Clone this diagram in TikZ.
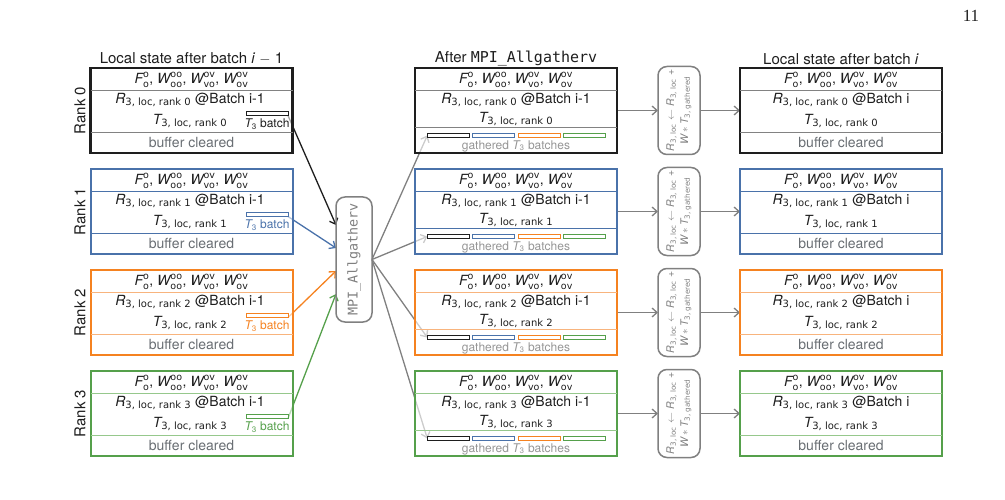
\documentclass[tikz,border=0pt]{standalone}
\usepackage{amsmath}
\usepackage{fontspec}
\setmainfont{TeX Gyre Heros}
\setmonofont{DejaVu Sans Mono}
\newfontfamily\serifpg{Liberation Serif}
\newfontfamily\subf{DejaVu Sans}
\usetikzlibrary{arrows.meta}
\pgfdeclarelayer{bg}
\pgfsetlayers{bg,main}
\definecolor{rkA}{RGB}{30,30,30}
\definecolor{rkB}{RGB}{74,114,170}
\definecolor{rkC}{RGB}{245,130,32}
\definecolor{rkD}{RGB}{85,160,75}
\definecolor{sepA}{RGB}{130,130,130}
\definecolor{sepB}{RGB}{74,114,170}
\definecolor{sepC}{RGB}{248,180,125}
\definecolor{sepD}{RGB}{150,200,140}
\definecolor{txtmain}{RGB}{30,30,30}
\definecolor{txtgray}{RGB}{105,110,115}
\definecolor{lgray}{RGB}{150,150,150}
\definecolor{agray}{RGB}{128,128,128}
\newcommand{\mi}[1]{\text{\itshape #1}}
\newcommand{\sbs}[1]{\text{\subf\fontsize{10}{10}\selectfont #1}}
\newcommand{\sps}[1]{\text{\subf\fontsize{9.5}{9.5}\selectfont #1}}
\newcommand{\sbr}[1]{\text{\subf\fontsize{7.2}{7.2}\selectfont #1}}
\newcommand{\Frow}{$\mi{F}^{\sps{o}}_{\sps{o}}$, $\mi{W}^{\sps{oo}}_{\sps{oo}}$, $\mi{W}^{\sps{ov}}_{\sps{vo}}$, $\mi{W}^{\sps{ov}}_{\sps{ov}}$}
\begin{document}
\begin{tikzpicture}[x=1pt,y=-1pt,
  every node/.style={inner sep=0pt, outer sep=0pt, text=txtmain},
  statebox/.style={draw=#1, fill=white, fill opacity=0.6, minimum width=202pt, minimum height=85pt},
  fmain/.style={font=\fontsize{14}{16}\selectfont},
  ftitle/.style={font=\fontsize{15}{17}\selectfont},
  fsmall/.style={font=\fontsize{12}{14}\selectfont},
  frot/.style={font=\fontsize{10.5}{13}\selectfont},
  smallbar/.style={draw=#1, line width=1pt, minimum width=42pt, minimum height=4pt},
  roundbox/.style={draw=agray, line width=1.5pt, rounded corners=9pt},
  arr/.style={line width=1.3pt, -{Straight Barb[length=5pt,width=9pt]}},
]
\useasboundingbox (0,0) rectangle (1005,500);

% titles
\node[ftitle] (TL) at (191.5,59) {Local state after batch \textit{i} $-$ 1};
\node[ftitle] (TM) at (516,59) {After \texttt{MPI\_Allgatherv}};
\node[ftitle] (TR) at (841,59) {Local state after batch \textit{i}};
\node[font=\serifpg\fontsize{17}{19}\selectfont] (pg) at (971,16) {11};

% MPI box
\node[roundbox, minimum width=36pt, minimum height=125pt] (mpi) at (354,259.5) {};
\node[rotate=90, text=agray, font=\ttfamily\fontsize{13.4}{15}\selectfont] (mpit) at (354,259.5) {MPI\_Allgatherv};
\foreach \k in {0,1,2,3} {
  \coordinate (mpiin\k) at (336,{225+23*\k});
}

\foreach \k/\c/\s/\w in {0/rkA/sepA/2.6,1/rkB/sepB/2,2/rkC/sepC/2,3/rkD/sepD/2} {
  \pgfmathsetmacro\ty{68+101*\k}
  \pgfmathsetmacro\cy{\ty+42.5}
  % rank label
  \node[rotate=90, ftitle] (RK\k) at (80,\cy) {Rank \k};
  % left box
  \node[statebox=\c, line width=\w pt] (L\k) at (191.5,\cy) {};
  \draw[\s, line width=0.9pt] ([yshift=-22pt]L\k.north west) -- ([yshift=-22pt]L\k.north east);
  \draw[\s, line width=0.9pt] ([yshift=-64pt]L\k.north west) -- ([yshift=-64pt]L\k.north east);
  \node[fmain] (LF\k) at (191.5,\ty+11.5) {\Frow};
  \node[fmain] (LR\k) at (190,\ty+32) {$\mi{R}_{\sbs{3, loc, rank \k}}$ @Batch i-1};
  \node[fmain] (LT\k) at (190,\ty+53) {$\mi{T}_{\sbs{3, loc, rank \k}}$};
  \node[smallbar=\c] (LB\k) at (267,\ty+45.5) {};
  \node[fsmall, text=\c] (LBL\k) at (267,\ty+56) {$\mi{T}_{\text{3}}$ batch};
  \node[fmain, text=txtgray] (LC\k) at (191.5,\ty+74.5) {buffer cleared};
  % middle box
  \node[statebox=\c, line width=\w pt] (M\k) at (516,\cy) {};
  \draw[\s, line width=0.9pt] ([yshift=-22pt]M\k.north west) -- ([yshift=-22pt]M\k.north east);
  \draw[\s, line width=0.9pt] ([yshift=-59pt]M\k.north west) -- ([yshift=-59pt]M\k.north east);
  \node[fmain] (MF\k) at (516,\ty+11.5) {\Frow};
  \node[fmain] (MR\k) at (516,\ty+32) {$\mi{R}_{\sbs{3, loc, rank \k}}$ @Batch i-1};
  \node[fmain] (MT\k) at (516,\ty+51) {$\mi{T}_{\sbs{3, loc, rank \k}}$};
  \node[smallbar=rkA] (MB\k-0) at (448.3,\ty+67.5) {};
  \node[smallbar=rkB] (MB\k-1) at (493.5,\ty+67.5) {};
  \node[smallbar=rkC] (MB\k-2) at (539.2,\ty+67.5) {};
  \node[smallbar=rkD] (MB\k-3) at (584.5,\ty+67.5) {};
  \node[fsmall, text=lgray] (MG\k) at (516,\ty+78) {gathered $\mi{T}_{\text{3}}$ batches};
  % update box
  \node[roundbox, minimum width=42pt, minimum height=88pt] (P\k) at (679,\cy) {};
  \node[rotate=90, frot, text=agray, align=center] (PT\k) at (679,\cy)
    {$\mi{R}_{\sbr{3, loc}} \leftarrow \mi{R}_{\sbr{3, loc}}$ +\\[1pt] $\mi{W} \ast \mi{T}_{\sbr{3, gathered}}$};
  % right box
  \node[statebox=\c, line width=\w pt] (Rt\k) at (841,\cy) {};
  \draw[\s, line width=0.9pt] ([yshift=-22pt]Rt\k.north west) -- ([yshift=-22pt]Rt\k.north east);
  \draw[\s, line width=0.9pt] ([yshift=-64pt]Rt\k.north west) -- ([yshift=-64pt]Rt\k.north east);
  \node[fmain] (RF\k) at (841,\ty+11.5) {\Frow};
  \node[fmain] (RR\k) at (841,\ty+32) {$\mi{R}_{\sbs{3, loc, rank \k}}$ @Batch i};
  \node[fmain] (RT\k) at (841,\ty+53) {$\mi{T}_{\sbs{3, loc, rank \k}}$};
  \node[fmain, text=txtgray] (RC\k) at (841,\ty+74.5) {buffer cleared};
  % connectors
  \begin{pgfonlayer}{bg}
    \draw[arr, draw=\c] (LB\k.south east) -- (mpiin\k);
    \draw[arr, draw=agray] (mpi.east) -- (MB\k-0.west);
    \draw[arr, draw=agray] (M\k.east) -- (P\k.west);
    \draw[arr, draw=agray] (P\k.east) -- (Rt\k.west);
  \end{pgfonlayer}
}
\end{tikzpicture}
\end{document}
